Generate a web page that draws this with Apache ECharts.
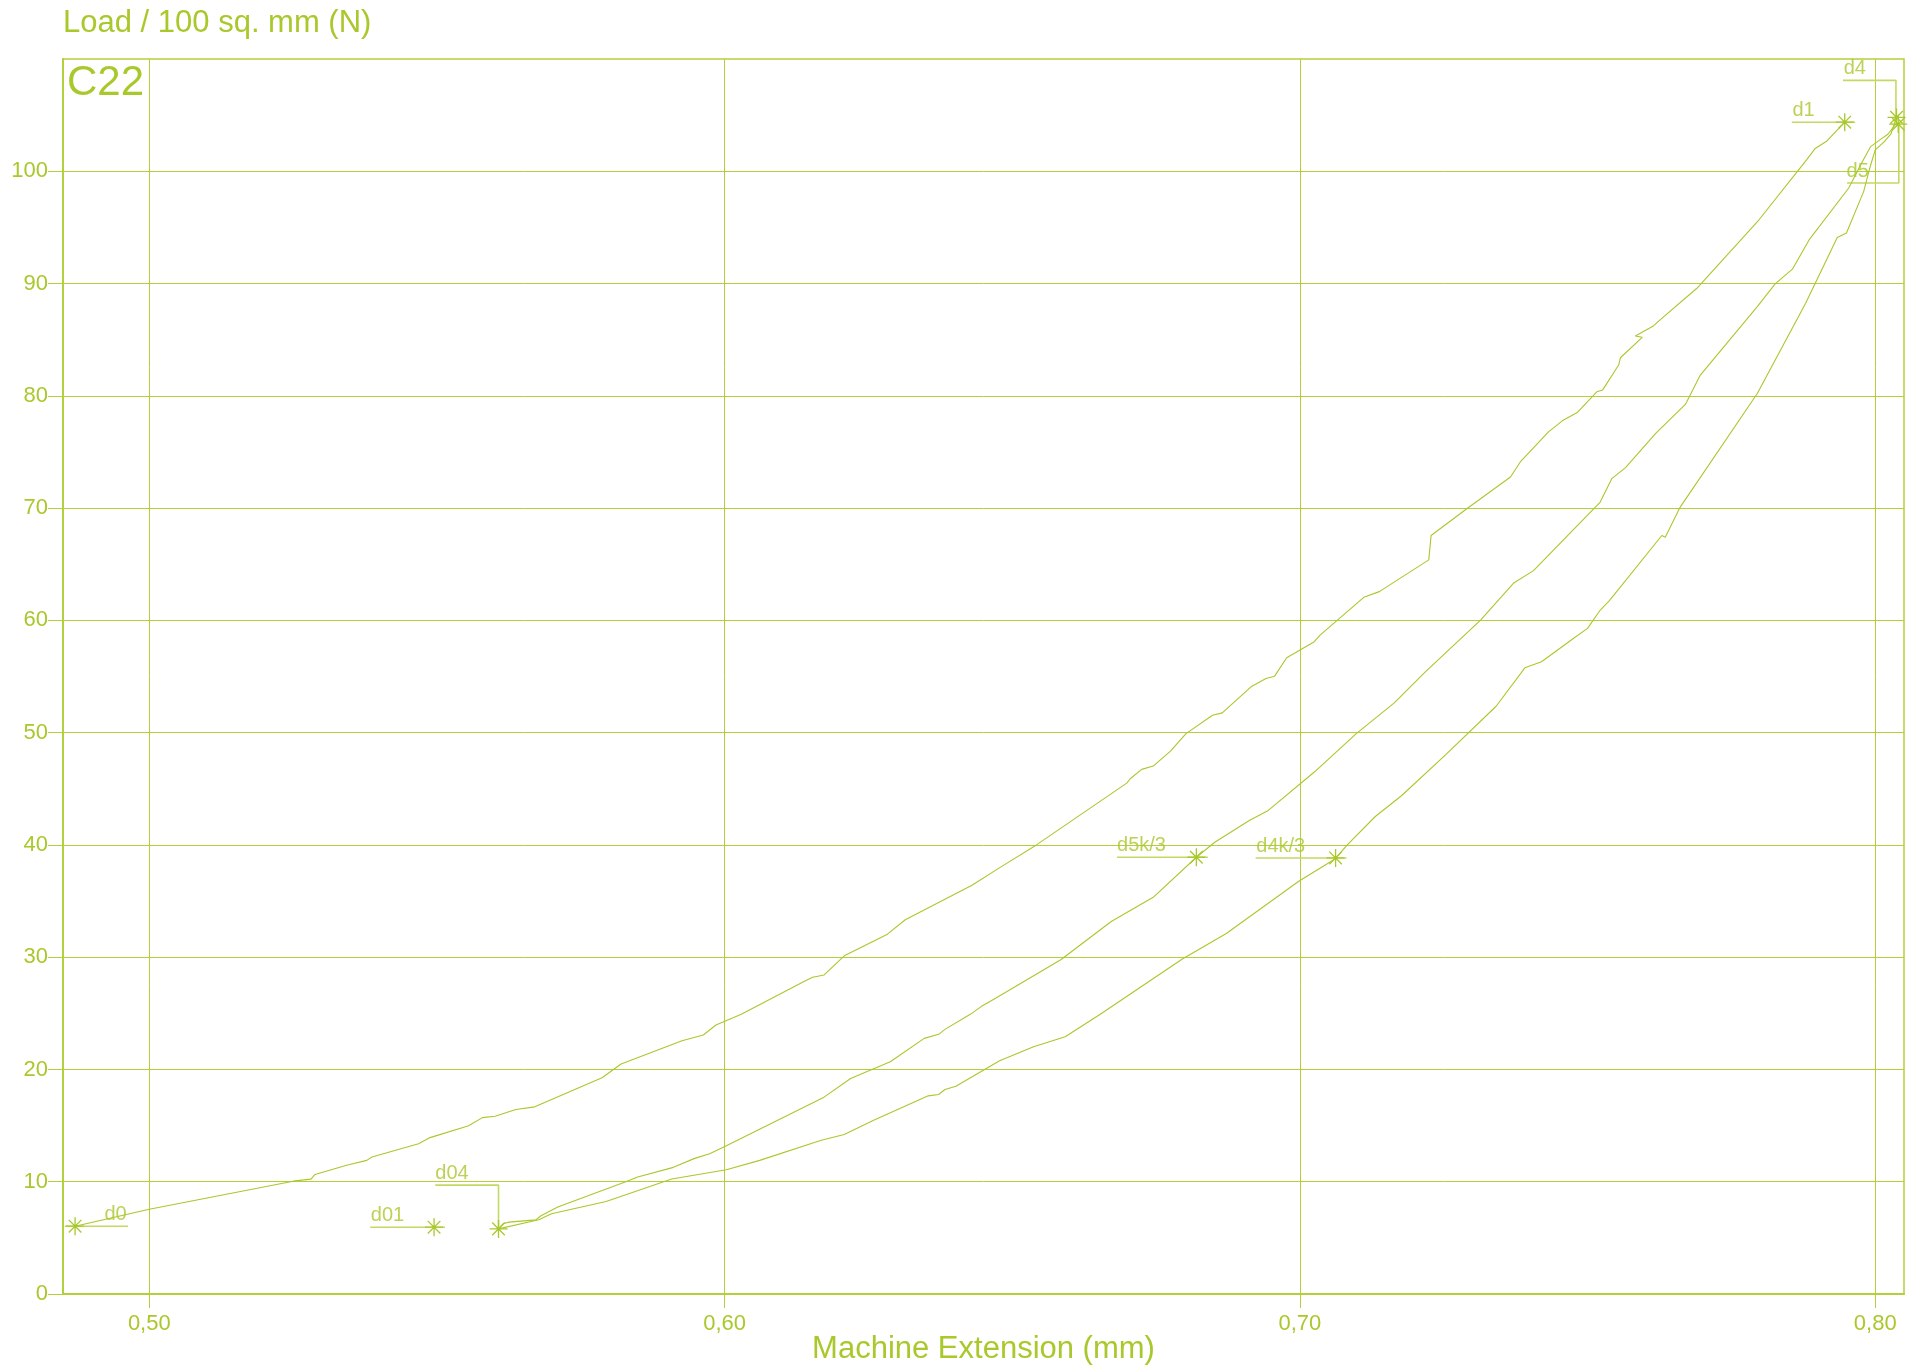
<!DOCTYPE html>
<html>
<head>
<meta charset="utf-8">
<script src="https://cdn.jsdelivr.net/npm/echarts@6/dist/echarts.min.js"></script>
<style>
html,body{margin:0;padding:0;background:#fff;}
#chart{width:1910px;height:1367px;}
</style>
</head>
<body>
<div id="chart"></div>
<script>
// ---- data ----
const chartTag = 'C22';
const yAxisTitle = 'Load / 100 sq. mm (N)';
const xAxisTitle = 'Machine Extension (mm)';
const xTickValues = [0.5, 0.6, 0.7, 0.8];
const xTickLabels = ['0,50', '0,60', '0,70', '0,80'];
const yTickValues = [0, 10, 20, 30, 40, 50, 60, 70, 80, 90, 100];
const yTickLabels = ['0', '10', '20', '30', '40', '50', '60', '70', '80', '90', '100'];

const curveUpper = [
  [0.4871, 6.04], [0.5000, 7.55], [0.5250, 10.05], [0.5281, 10.23], [0.5288, 10.65],
  [0.5343, 11.46], [0.5378, 11.90], [0.5387, 12.20], [0.5468, 13.39], [0.5488, 13.93],
  [0.5555, 14.98], [0.5579, 15.71], [0.5601, 15.83], [0.5637, 16.43], [0.5670, 16.67],
  [0.5787, 19.26], [0.5820, 20.48], [0.5926, 22.56], [0.5963, 23.07], [0.5985, 23.96],
  [0.6029, 24.91], [0.6138, 27.83], [0.6153, 28.21], [0.6173, 28.42], [0.6208, 30.12],
  [0.6283, 32.05], [0.6314, 33.33], [0.6430, 36.40], [0.6479, 38.00], [0.6542, 40.00],
  [0.6699, 45.50], [0.6705, 45.89], [0.6725, 46.73], [0.6745, 47.02], [0.6775, 48.36],
  [0.6802, 49.91], [0.6848, 51.55], [0.6865, 51.76], [0.6915, 54.08], [0.6941, 54.82],
  [0.6956, 55.03], [0.6977, 56.67], [0.7025, 58.10], [0.7035, 58.69], [0.7111, 62.05],
  [0.7138, 62.56], [0.7224, 65.39], [0.7228, 67.56], [0.7290, 69.94], [0.7366, 72.77],
  [0.7383, 74.11], [0.7432, 76.79], [0.7456, 77.77], [0.7482, 78.51], [0.7516, 80.36],
  [0.7526, 80.51], [0.7554, 82.74], [0.7557, 83.39], [0.7595, 85.21], [0.7583, 85.33],
  [0.7615, 86.25], [0.7624, 86.67], [0.7690, 89.58], [0.7798, 95.68], [0.7881, 101.04],
  [0.7895, 102.00], [0.7916, 102.70], [0.7947, 104.37]
];

const curveMiddle = [
  [0.5607, 5.80], [0.5615, 6.25], [0.5625, 6.40], [0.5672, 6.60], [0.5680, 6.95],
  [0.5710, 7.74], [0.5827, 9.97], [0.5849, 10.42], [0.5911, 11.28], [0.5948, 12.08],
  [0.5974, 12.50], [0.6003, 13.21], [0.6171, 17.47], [0.6219, 19.20], [0.6288, 20.68],
  [0.6347, 22.77], [0.6372, 23.13], [0.6383, 23.57], [0.6427, 24.91], [0.6446, 25.60],
  [0.6471, 26.34], [0.6585, 29.79], [0.6672, 33.18], [0.6745, 35.33], [0.6820, 38.90],
  [0.6852, 40.24], [0.6912, 42.17], [0.6945, 43.07], [0.7025, 46.49], [0.7098, 49.91],
  [0.7164, 52.65], [0.7218, 55.42], [0.7314, 60.03], [0.7371, 63.30], [0.7406, 64.43],
  [0.7522, 70.54], [0.7542, 72.62], [0.7566, 73.60], [0.7618, 76.64], [0.7670, 79.23],
  [0.7696, 81.85], [0.7795, 87.95], [0.7826, 89.97], [0.7856, 91.28], [0.7886, 93.96],
  [0.7954, 98.51], [0.7975, 100.60], [0.7992, 102.20], [0.8008, 102.80], [0.8022, 103.30],
  [0.8037, 104.30]
];

const curveLower = [
  [0.5607, 5.80], [0.5677, 6.61], [0.5699, 7.14], [0.5794, 8.24], [0.5908, 10.24],
  [0.6003, 11.07], [0.6061, 11.90], [0.6168, 13.69], [0.6208, 14.20], [0.6259, 15.48],
  [0.6354, 17.65], [0.6372, 17.77], [0.6383, 18.21], [0.6402, 18.51], [0.6478, 20.77],
  [0.6537, 22.02], [0.6592, 22.92], [0.6653, 24.91], [0.6795, 29.82], [0.6872, 32.11],
  [0.6998, 36.76], [0.7061, 38.75], [0.7084, 40.09], [0.7131, 42.53], [0.7177, 44.40],
  [0.7254, 48.07], [0.7341, 52.35], [0.7391, 55.77], [0.7420, 56.31], [0.7477, 58.45],
  [0.7500, 59.29], [0.7522, 60.92], [0.7538, 61.76], [0.7629, 67.56], [0.7635, 67.41],
  [0.7661, 70.09], [0.7795, 80.21], [0.7879, 88.24], [0.7934, 94.11], [0.7950, 94.50],
  [0.7980, 98.21], [0.7990, 100.20], [0.8000, 101.90], [0.8015, 102.60], [0.8027, 103.30],
  [0.8037, 104.80]
];

// marked points: [x, y, name]
const markerPoints = [
  [0.4871, 6.04, 'd0'],
  [0.5495, 5.95, 'd01'],
  [0.5607, 5.80, 'd04'],
  [0.6820, 38.90, 'd5k/3'],
  [0.7062, 38.84, 'd4k/3'],
  [0.7947, 104.37, 'd1'],
  [0.8037, 104.80, 'd4'],
  [0.8040, 104.20, 'd5']
];

// leader lines for the point names
const leaderD0 = [[0.4853, 6.04], [0.4963, 6.04]];
const leaderD01 = [[0.5384, 5.95], [0.5514, 5.95]];
const leaderD04 = [[0.5497, 9.70], [0.5607, 9.70], [0.5607, 5.80]];
const leaderD5k3 = [[0.6682, 38.90], [0.6840, 38.90]];
const leaderD4k3 = [[0.6923, 38.84], [0.7081, 38.84]];
const leaderD1 = [[0.7855, 104.37], [0.7965, 104.37]];
const leaderD4 = [[0.7944, 108.10], [0.8036, 108.10], [0.8036, 104.80]];
const leaderD5 = [[0.7951, 98.96], [0.8041, 98.96], [0.8041, 104.20]];

// name anchors: [x, y, text]
const nameAnchors = [
  [0.4923, 6.04, 'd0'],
  [0.5386, 5.95, 'd01'],
  [0.5498, 9.70, 'd04'],
  [0.6683, 38.90, 'd5k/3'],
  [0.6925, 38.84, 'd4k/3'],
  [0.7857, 104.37, 'd1'],
  [0.7946, 108.10, 'd4'],
  [0.7951, 98.96, 'd5']
];

// ---- chart ----
const COLOR = '#a9c82c';
const LINE = '#b2cf3c';
const FONT = '"Liberation Sans", Arial, sans-serif';

const chart = echarts.init(document.getElementById('chart'), null, {renderer: 'canvas'});

function curveSeries(name, data) {
  return {
    name: name, type: 'line', data: data, showSymbol: false, symbol: 'none',
    lineStyle: {color: COLOR, width: 1.1}, silent: true, z: 3
  };
}
function leaderSeries(data) {
  return {
    type: 'line', data: data, showSymbol: false, symbol: 'none',
    lineStyle: {color: '#c2da63', width: 1.6}, silent: true, z: 2
  };
}

const asterisk = 'path://M10,0L10,20M0,10L20,10M3,3L17,17M3,17L17,3';

chart.setOption({
  animation: false,
  backgroundColor: '#ffffff',
  textStyle: {fontFamily: FONT},
  grid: {left: 63, right: 6, top: 59, bottom: 73, show: true, borderColor: LINE, borderWidth: 1.5,
         backgroundColor: 'transparent', outerBoundsMode: 'none', containLabel: false},
  xAxis: {
    type: 'value', min: 0.485, max: 0.805,
    name: xAxisTitle, nameLocation: 'middle', nameGap: 55, nameMoveOverlap: false,
    nameTextStyle: {fontSize: 31, color: COLOR, fontFamily: FONT, verticalAlign: 'middle'},
    axisLine: {show: true, onZero: false, lineStyle: {color: LINE, width: 2}},
    axisTick: {show: true, inside: false, length: 14, customValues: xTickValues, lineStyle: {color: LINE, width: 1}},
    axisLabel: {
      customValues: xTickValues, margin: 19, fontSize: 22, color: COLOR, fontFamily: FONT,
      formatter: function (v) {
        const i = xTickValues.findIndex(t => Math.abs(t - v) < 1e-9);
        return i >= 0 ? xTickLabels[i] : '';
      }
    },
    splitLine: {show: true, lineStyle: {color: LINE, width: 1}}
  },
  yAxis: {
    type: 'value', min: 0, max: 110, interval: 10,
    name: yAxisTitle, nameLocation: 'end', nameGap: 36, nameMoveOverlap: false,
    nameTextStyle: {fontSize: 31, color: COLOR, fontFamily: FONT, align: 'left', verticalAlign: 'middle'},
    axisLine: {show: true, onZero: false, lineStyle: {color: LINE, width: 2}},
    axisTick: {show: true, inside: false, length: 15, customValues: yTickValues, lineStyle: {color: LINE, width: 1}},
    axisLabel: {
      customValues: yTickValues, margin: 15, fontSize: 22, color: COLOR, fontFamily: FONT,
      formatter: function (v) {
        const i = yTickValues.findIndex(t => Math.abs(t - v) < 1e-9);
        return i >= 0 ? yTickLabels[i] : '';
      }
    },
    splitLine: {show: true, lineStyle: {color: LINE, width: 1}}
  },
  graphic: [{
    type: 'text', x: 67, y: 83.5, silent: true,
    style: {text: chartTag, fontSize: 42, fill: COLOR, fontFamily: FONT, verticalAlign: 'middle', align: 'left'}
  }],
  series: [
    curveSeries('upper', curveUpper),
    curveSeries('middle', curveMiddle),
    curveSeries('lower', curveLower),
    leaderSeries(leaderD0),
    leaderSeries(leaderD01),
    leaderSeries(leaderD04),
    leaderSeries(leaderD5k3),
    leaderSeries(leaderD4k3),
    leaderSeries(leaderD1),
    leaderSeries(leaderD4),
    leaderSeries(leaderD5),
    {
      type: 'scatter', data: markerPoints, symbol: asterisk, symbolSize: 18, z: 4, silent: true,
      itemStyle: {color: 'none', borderColor: COLOR, borderWidth: 1.3, opacity: 1}
    },
    {
      type: 'scatter', data: nameAnchors, symbol: 'circle', symbolSize: 1, z: 5, silent: true,
      itemStyle: {color: 'rgba(0,0,0,0)'},
      label: {
        show: true, position: [0, -1], align: 'left', verticalAlign: 'bottom',
        fontSize: 20, color: COLOR, fontFamily: FONT,
        formatter: function (p) { return p.data[2]; }
      }
    }
  ]
});
</script>
</body>
</html>
